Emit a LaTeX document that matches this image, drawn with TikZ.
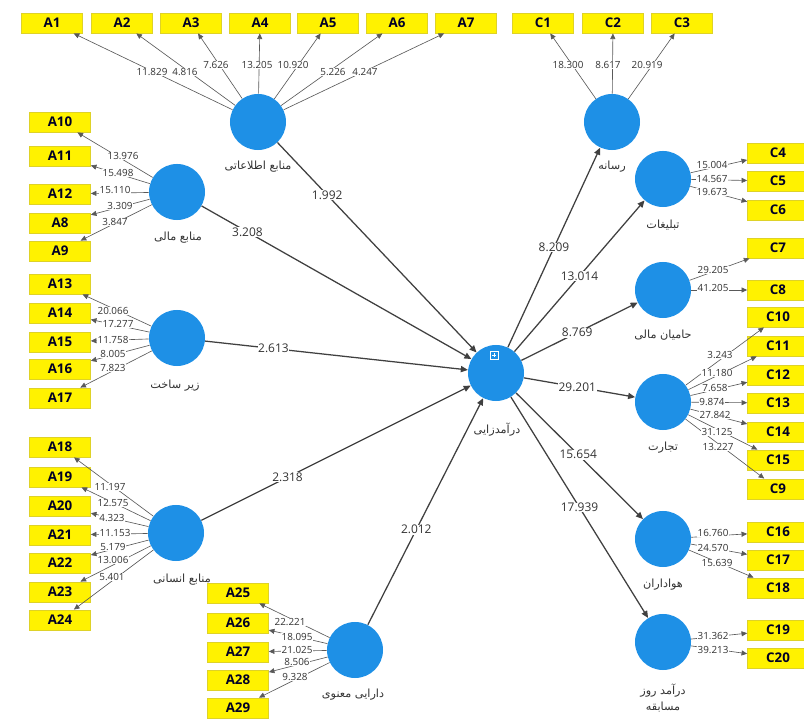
\documentclass[tikz,border=0pt]{standalone}
\usepackage{fontspec}
\setmainfont{Open Sans}
\newfontfamily\fa[Script=Arabic]{DejaVu Sans}
\TeXXeTstate=1
\usetikzlibrary{arrows.meta}
\definecolor{lvblue}{RGB}{30,144,230}
\definecolor{mvfill}{RGB}{255,242,0}
\definecolor{mvedge}{RGB}{222,210,40}
\tikzset{
  lv/.style     = {circle, fill=lvblue, inner sep=0pt, minimum size=1.4cm},
  mv/.style     = {rectangle, fill=mvfill, draw=mvedge, line width=0.6pt,
                   minimum width=1.52cm, minimum height=0.5cm, inner sep=0pt,
                   font=\fontsize{9.5}{10}\selectfont\bfseries, text=black!85!blue},
  lvtxt/.style  = {font=\fontsize{8}{12}\selectfont, text=black!80, align=center},
  tval/.style   = {fill=white, inner sep=0.4pt, font=\fontsize{7}{8}\selectfont, text=black!80},
  sval/.style   = {tval, font=\fontsize{8.5}{9}\selectfont},
  load/.style   = {draw=black!65, line width=0.45pt, -{Triangle[length=4pt,width=3.6pt]}},
  struct/.style = {draw=black!75, line width=0.9pt, -{Triangle[length=5pt,width=4.4pt]}},
}
\newcommand{\pers}[1]{{\fa\beginR#1\endR}}

\begin{document}
\begin{tikzpicture}[x=0.025cm,y=-0.025cm]
\useasboundingbox (0,0) rectangle (804,720);
\clip (0,0) rectangle (804,720);
% latent variables
\node[lv] (info)   at (258,122) {};
\node[lv] (fin)    at (177,192) {};
\node[lv] (infra)  at (177,338) {};
\node[lv] (hum)    at (176,533) {};
\node[lv] (intang) at (355,650) {};
\node[lv] (rev)    at (496,373) {};
\node[lv] (media)  at (612,122) {};
\node[lv] (adv)    at (663,179) {};
\node[lv] (spons)  at (663,290) {};
\node[lv] (comm)   at (663,402) {};
\node[lv] (fans)   at (663,539) {};
\node[lv] (match)  at (663,642) {};
\draw[white, line width=0.4pt] (490,351) rectangle (498,359) (492,355) -- (496,355) (494,353) -- (494,357);
% their names
\node[lvtxt] (info-t)   at (258,167) {\pers{منابع اطلاعاتی}};
\node[lvtxt] (fin-t)    at (178,238) {\pers{منابع مالی}};
\node[lvtxt] (infra-t)  at (175,386) {\pers{زیر ساخت}};
\node[lvtxt] (hum-t)    at (182,580) {\pers{منابع انسانی}};
\node[lvtxt] (intang-t) at (353,695) {\pers{دارایی معنوی}};
\node[lvtxt] (rev-t)    at (497,430) {\pers{درآمدزایی}};
\node[lvtxt] (media-t)  at (612,167) {\pers{رسانه}};
\node[lvtxt] (adv-t)    at (663,225) {\pers{تبلیغات}};
\node[lvtxt] (spons-t)  at (663,335) {\pers{حامیان مالی}};
\node[lvtxt] (comm-t)   at (663,448) {\pers{تجارت}};
\node[lvtxt] (fans-t)   at (663,585) {\pers{هواداران}};
\node[lvtxt] (match-t)  at (663,698) {\pers{درآمد روز}\\\pers{مسابقه}};
% indicators
\foreach \n/\x in {A1/52,A2/122,A3/191,A4/260,A5/328,A6/397,A7/466,C1/543,C2/613,C3/682}
  \node[mv] (\n) at (\x,23) {\n};
\foreach \n/\y in {A10/122,A11/156,A12/194,A8/223,A9/251,A13/284,A14/313,A15/342,A16/369,A17/398,
                   A18/447,A19/477,A20/506,A21/535,A22/563,A23/592,A24/620}
  \node[mv] (\n) at (60,\y) {\n};
\foreach \n/\y in {A25/593,A26/623,A27/652,A28/680,A29/708}
  \node[mv] (\n) at (238,\y) {\n};
\foreach \n/\y in {C4/153,C5/181,C6/210,C7/248,C8/290,C10/317,C11/346,C12/375,C13/403,C14/432,
                   C15/460,C9/489,C16/532,C17/560,C18/588,C19/630,C20/658}
  \node[mv] (\n) at (778,\y) {\n};
% outer model
\foreach \n in {A1,A2,A3,A4,A5,A6,A7} \draw[load] (info) -- (\n);
\foreach \n in {A10,A11,A12,A8,A9} \draw[load] (fin) -- (\n);
\foreach \n in {A13,A14,A15,A16,A17} \draw[load] (infra) -- (\n);
\foreach \n in {A18,A19,A20,A21,A22,A23,A24} \draw[load] (hum) -- (\n);
\foreach \n in {A25,A26,A27,A28,A29} \draw[load] (intang) -- (\n);
\foreach \n in {C1,C2,C3} \draw[load] (media) -- (\n);
\foreach \n in {C4,C5,C6} \draw[load] (adv) -- (\n);
\foreach \n in {C7,C8} \draw[load] (spons) -- (\n);
\foreach \n in {C10,C11,C12,C13,C14,C15,C9} \draw[load] (comm) -- (\n);
\foreach \n in {C16,C17,C18} \draw[load] (fans) -- (\n);
\foreach \n in {C19,C20} \draw[load] (match) -- (\n);
% loadings
\foreach \x/\y/\v [count=\i] in {152/72/11.829,185/72/4.816,216/65/7.626,257/65/13.205,293/65/10.920,
    333/72/5.226,365/72/4.247,
    123/156/13.976,118/173/15.498,115/190/15.110,120/206/3.309,115/222/3.847,
    113/311/20.066,118/324/17.277,113/340/11.758,113/354/8.005,113/368/7.823,
    110/487/11.197,113/503/12.575,112/518/4.323,115/533/11.153,113/547/5.179,113/560/13.006,112/577/5.401,
    290/622/22.221,297/637/18.095,297/650/21.025,297/662/8.506,295/677/9.328,
    568/65/18.300,608/65/8.617,647/65/20.919,
    712/165/15.004,712/179/14.567,712/192/19.673,
    713/270/29.205,713/288/41.205,
    720/355/3.243,717/373/11.180,715/388/7.658,712/402/9.874,715/415/27.842,717/432/31.125,718/447/13.227,
    713/533/16.760,713/548/24.570,717/563/15.639,
    713/636/31.362,713/650/39.213}
  \node[tval] (w\i) at (\x,\y) {\v};
% inner model
\draw[struct] (info) -- node[sval,pos=0.25] {1.992} (rev);
\draw[struct] (fin) -- node[sval,pos=0.17] {3.208} (rev);
\draw[struct] (infra) -- node[sval,pos=0.26] {2.613} (rev);
\draw[struct] (hum) -- node[sval,pos=0.32] {2.318} (rev);
\draw[struct] (intang) -- node[sval,pos=0.42] {2.012} (rev);
\draw[struct] (rev) -- node[sval,pos=0.5] {8.209} (media);
\draw[struct] (rev) -- node[sval,pos=0.5] {13.014} (adv);
\draw[struct] (rev) -- node[sval,pos=0.48] {8.769} (spons);
\draw[struct] (rev) -- node[sval,pos=0.48] {29.201} (comm);
\draw[struct] (rev) -- node[sval,pos=0.49] {15.654} (fans);
\draw[struct] (rev) -- node[sval,pos=0.5] {17.939} (match);
\end{tikzpicture}
\end{document}
